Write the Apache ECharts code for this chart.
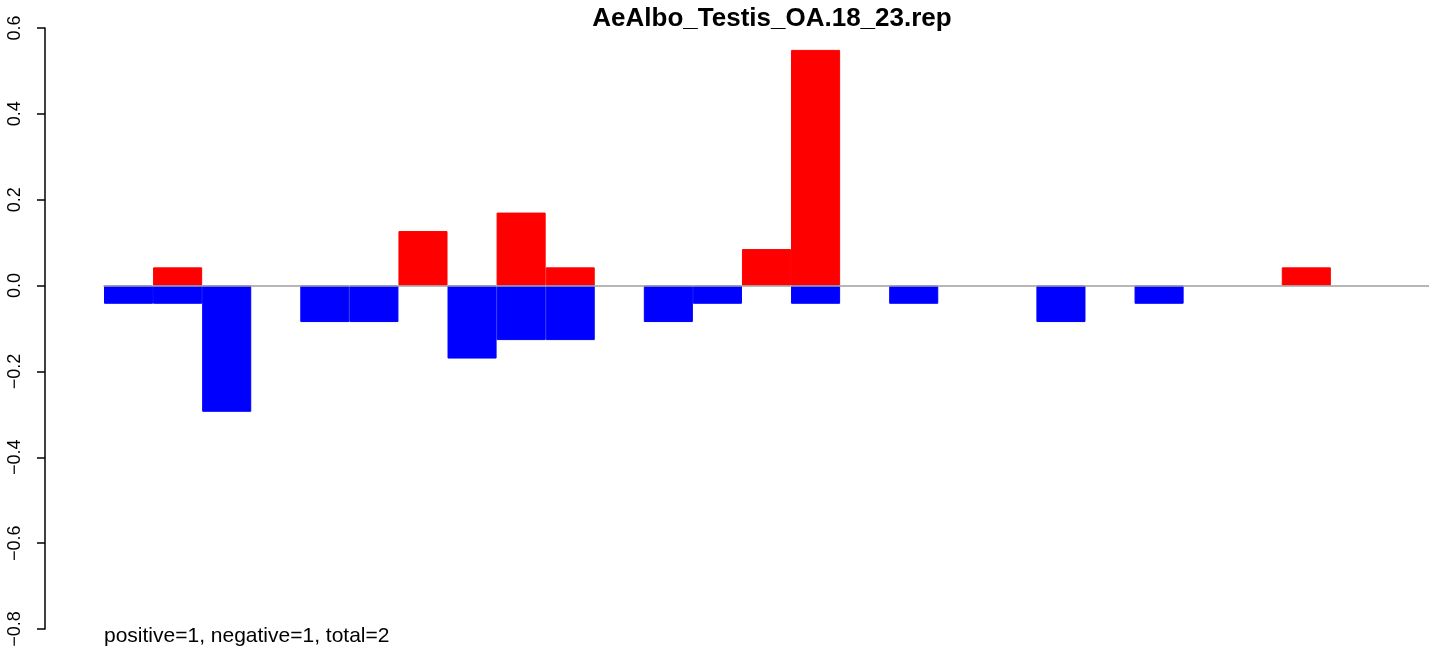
<!DOCTYPE html>
<html>
<head>
<meta charset="utf-8">
<script src="https://cdn.jsdelivr.net/npm/echarts@6/dist/echarts.min.js"></script>
<style>
  html, body { margin: 0; padding: 0; background: #fff; }
  #chart { width: 1429px; height: 651px; }
</style>
</head>
<body>
<div id="chart"></div>
<script>
// one slot per bin, left to right
const bins = Array.from({ length: 27 }, (_, i) => String(i + 1));

// positive (red) and negative (blue) values per bin, null = no bar
const positive = [null, 0.0424, null, null, null, null, 0.127, null, 0.17, 0.0424,
  null, null, null, 0.085, 0.549, null, null, null, null, null,
  null, null, null, null, 0.0424, null, null];
const negative = [-0.0424, -0.0424, -0.294, null, -0.085, -0.085, null, -0.17, -0.127, -0.127,
  null, -0.085, -0.0424, null, -0.0424, null, -0.0424, null, null, -0.085,
  null, -0.0424, null, null, null, null, null];

const yTicks = [-0.8, -0.6, -0.4, -0.2, 0.0, 0.2, 0.4, 0.6];

const chart = echarts.init(document.getElementById('chart'));

const options = {
  animation: false,
  title: {
    text: 'AeAlbo_Testis_OA.18_23.rep',
    left: 767,
    textAlign: 'center',
    top: 1,
    textStyle: { fontFamily: 'Liberation Sans', fontWeight: 'bold', fontSize: 26, color: '#000' }
  },
  graphic: [{
    type: 'text',
    left: 104,
    top: 626,
    style: { text: 'positive=1, negative=1, total=2', fontFamily: 'Liberation Sans', fontSize: 21, fill: '#000' }
  }],
  grid: { left: 104, right: -4, top: 28, bottom: 22 },
  xAxis: {
    type: 'category',
    data: bins,
    z: 5,
    axisLine: { onZero: true, lineStyle: { color: '#a0a0a0', width: 1.5 } },
    axisTick: { show: false },
    axisLabel: { show: false },
    splitLine: { show: false }
  },
  yAxis: {
    type: 'value',
    min: yTicks[0],
    max: yTicks[yTicks.length - 1],
    interval: 0.2,
    offset: 59,
    axisLine: { show: true, lineStyle: { color: '#000', width: 1.5 } },
    axisTick: { show: true, length: 8, lineStyle: { color: '#000', width: 1.5 } },
    axisLabel: {
      rotate: 90,
      margin: 21,
      fontFamily: 'Liberation Sans',
      fontSize: 18,
      color: '#000',
      formatter: v => v.toFixed(1).replace('-', '\u2212')
    },
    splitLine: { show: false }
  },
  series: [
    {
      name: 'positive',
      type: 'bar',
      data: positive,
      barWidth: '100%',
      barGap: '-100%',
      barCategoryGap: 0,
      itemStyle: { color: '#ff0000', borderColor: '#ff0000', borderWidth: 1 }
    },
    {
      name: 'negative',
      type: 'bar',
      data: negative,
      barWidth: '100%',
      barGap: '-100%',
      barCategoryGap: 0,
      itemStyle: { color: '#0000ff', borderColor: '#0000ff', borderWidth: 1 }
    }
  ]
};

chart.setOption(options);
</script>
</body>
</html>
